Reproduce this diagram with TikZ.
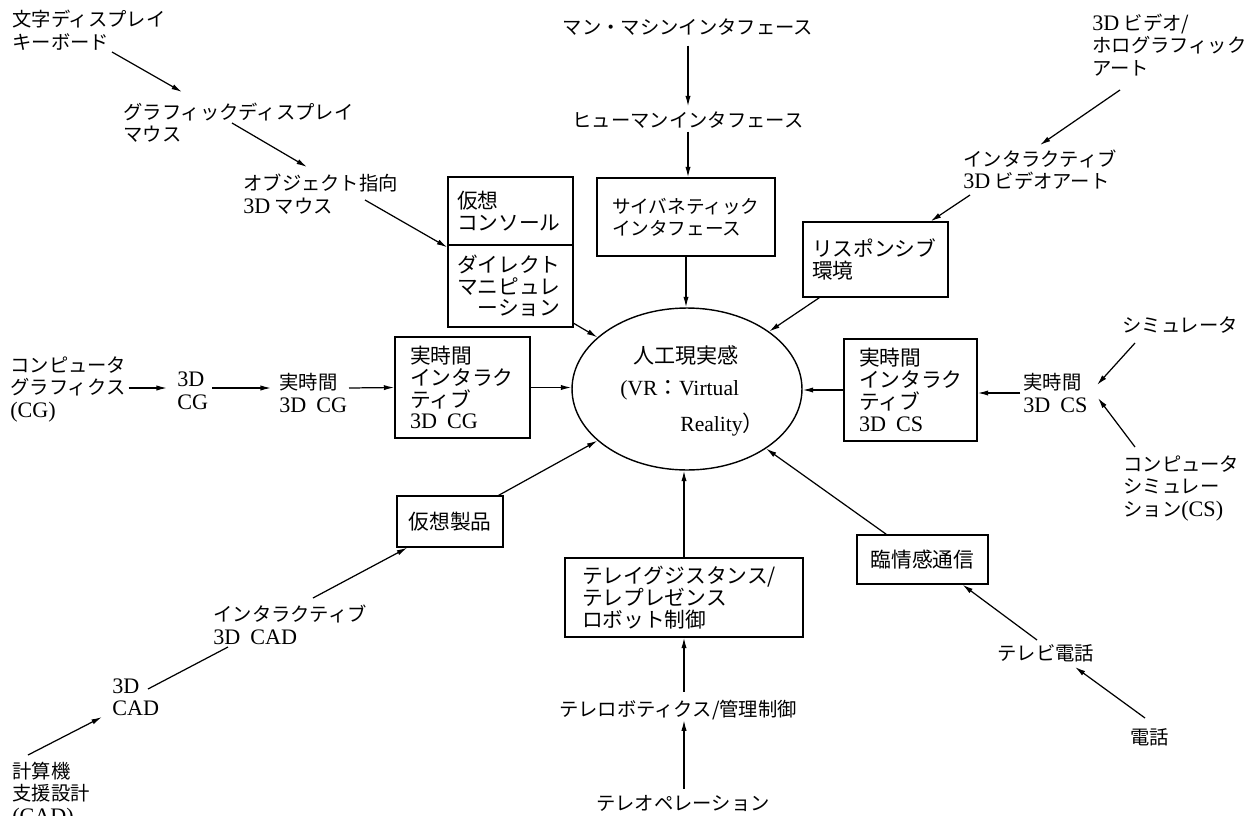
\documentclass[tikz,border=0pt]{standalone}
\usepackage{fontspec}
\setmainfont{Liberation Serif}
\newfontfamily\jp{Noto Sans CJK JP}
\usetikzlibrary{arrows.meta,shapes.geometric}
\newcommand\lat[1]{{\fontsize{12.6}{12.8}\selectfont\rmfamily #1}}
\begin{document}
\begin{tikzpicture}[x=0.02cm,y=-0.02cm,
  lab/.style={inner sep=0pt, align=left, font=\fontsize{11}{12.8}\selectfont\jp},
  latlab/.style={inner sep=0pt, align=left, font=\fontsize{12.6}{12.8}\selectfont\rmfamily},
  box/.style={draw, line width=0.8pt, inner ysep=0pt, align=left, font=\fontsize{11.8}{12.4}\selectfont\jp},
  arr/.style={line width=0.7pt, -{Latex[length=6pt,width=3pt]}},
  ln/.style={line width=0.7pt}]
\useasboundingbox (0,0) rectangle (1251,815);

% top-left chain
\node[lab, anchor=west] (kb) at (12,30) {文字ディスプレイ\\キーボード};
\node[lab, anchor=west] (gd) at (123,122.5) {グラフィックディスプレイ\\マウス};
\node[lab, anchor=west] (oo) at (243,194) {オブジェクト指向\\\lat{3D} マウス};

% top-center chain
\node[lab] (mm) at (688,27) {マン・マシンインタフェース};
\node[lab] (hi) at (688,120) {ヒューマンインタフェース};

% top-right chain
\node[lab, anchor=west] (v3d) at (1092,45) {\lat{3D} ビデオ/\\ホログラフィック\\アート};
\node[lab, anchor=west] (iv) at (963,170) {インタラクティブ\\\lat{3D} ビデオアート};

% boxes
\node[box, text width=2.14cm, inner xsep=0.18cm, minimum height=1.36cm] (k1) at (510.5,211) {仮想\\コンソール};
\node[box, text width=2.14cm, inner xsep=0.18cm, minimum height=1.64cm] (k2) at (510.5,286) {ダイレクト\\マニピュレ\\　ーション};
\node[box, font=\fontsize{10.6}{12.4}\selectfont\jp, text width=2.96cm, inner xsep=0.3cm, minimum height=1.56cm] (cyb) at (686,217) {サイバネティック\\インタフェース};
\node[box, text width=2.54cm, inner xsep=0.18cm, minimum height=1.5cm] (resp) at (875.5,259.5) {リスポンシブ\\環境};
\node[box, text width=2.1cm, inner xsep=0.3cm, minimum height=2.02cm] (rtcgb) at (462.5,387.5) {実時間\\インタラク\\ティブ\\\lat{3D\hspace{0.45em}CG}};
\node[box, text width=2.06cm, inner xsep=0.3cm, minimum height=2.04cm] (rtcsb) at (910.5,390) {実時間\\インタラク\\ティブ\\\lat{3D\hspace{0.45em}CS}};
\node[box, align=center, inner xsep=0pt, minimum width=2.12cm, minimum height=1.02cm] (kasei) at (450,521.5) {仮想製品};
\node[box, text width=4.08cm, inner xsep=0.34cm, minimum height=1.58cm] (tele) at (684,597.5) {テレイグジスタンス/\\テレプレゼンス\\ロボット制御};
\node[box, align=center, inner xsep=0pt, minimum width=2.62cm, minimum height=0.98cm] (rin) at (922.5,559.5) {臨情感通信};

% central ellipse
\node[draw, ellipse, line width=0.8pt, minimum width=4.6cm, minimum height=3.24cm, inner sep=0pt] (vr) at (687,389) {};
\node[lab, font=\fontsize{12}{14}\selectfont\jp] (vr1) at (686,355) {人工現実感};
\node[lab, anchor=west, font=\fontsize{12.3}{14}\selectfont\rmfamily] (vr2) at (620,390) {(VR{\jp ：}Virtual};
\node[lab, anchor=west, font=\fontsize{12.3}{14}\selectfont\rmfamily] (vr3) at (680,425) {Reality{\jp ）}};

% left-middle chain
\node[lab, anchor=west] (cgl) at (10,389) {コンピュータ\\グラフィクス\\\lat{(CG)}};
\node[latlab, anchor=west] (cg3) at (177,391) {3D\\CG};
\node[lab, anchor=west] (rtcg) at (279,393) {実時間\\\lat{3D\hspace{0.45em}CG}};

% right-middle chain
\node[lab, anchor=west] (rtcs) at (1023,393) {実時間\\\lat{3D\hspace{0.45em}CS}};
\node[lab, anchor=west] (sim) at (1122,325) {シミュレータ};
\node[lab, anchor=west] (csim) at (1123,488) {コンピュータ\\シミュレー\\ション\lat{(CS)}};

% bottom-left chain
\node[lab, anchor=west] (ia) at (213,625) {インタラクティブ\\\lat{3D\hspace{0.45em}CAD}};
\node[latlab, anchor=west] (cad3) at (112,697.5) {3D\\CAD};
\node[lab, anchor=west] (csd) at (12,795) {計算機\\支援設計\\\lat{(CAD)}};

% bottom-center chain
\node[lab] (trc) at (678,710) {テレロボティクス/管理制御};
\node[lab] (top) at (683,803) {テレオペレーション};

% bottom-right chain
\node[lab, anchor=west] (tv) at (997,653) {テレビ電話};
\node[lab, anchor=west] (den) at (1130,737) {電話};

% connectors
\draw[arr] ([shift={(100,22)}]kb.west) -- ([shift={(59,-30.5)}]gd.west);
\draw[arr] ([shift={(109,0.5)}]gd.west) -- ([shift={(64,-27)}]oo.west);
\draw[arr] ([shift={(122,6)}]oo.west) -- ([shift={(0,3)}]k2.north west);
\draw[arr] ([shift={(-1,-5)}]k2.south east) -- (vr.150);
\draw[arr] ([shift={(0,10)}]mm.south) -- ([shift={(0,-5)}]hi.north);
\draw[arr] ([shift={(0,3)}]hi.south) -- (hi.south |- cyb.north);
\draw[arr] (cyb.south) -- (cyb.south |- vr.north);
\draw[arr] ([shift={(28,45)}]v3d.west) -- ([shift={(77,-25)}]iv.west);
\draw[arr] ([shift={(7,25)}]iv.west) -- ([shift={(-18,0)}]resp.north east);
\draw[arr] ([shift={(17,0)}]resp.south west) -- (vr.35);
\draw[arr] ([shift={(2,-1)}]cgl.east) -- ([shift={(-10,-3)}]cg3.west);
\draw[arr] ([shift={(35,-3)}]cg3.west) -- ([shift={(-8,-5)}]rtcg.west);
\draw[arr] ([shift={(70,-5)}]rtcg.west) -- (rtcgb.west);
\draw[arr] (rtcgb.east) -- (rtcgb.east -| vr.west);
\draw[arr] (rtcsb.west) -- (rtcsb.west -| vr.east);
\draw[arr] ([shift={(-3,0)}]rtcs.west) -- (rtcsb.east |- rtcs.west);
\draw[arr] ([shift={(13,18)}]sim.west) -- ([shift={(74,-8)}]rtcs.west);
\draw[arr] ([shift={(12,-41)}]csim.west) -- ([shift={(75,5)}]rtcs.west);
\draw[arr] ([shift={(-5,0)}]kasei.north east) -- (vr.210);
\draw[arr] ([shift={(100,-27)}]ia.west) -- ([shift={(11,0)}]kasei.south west);
\draw[ln] ([shift={(36,-8.5)}]cad3.west) -- ([shift={(15,22)}]ia.west);
\draw[arr] ([shift={(16,-40)}]csd.west) -- ([shift={(-10,19.5)}]cad3.west);
\draw[arr] (tele.north) -- (tele.north |- vr.south);
\draw[arr] ([shift={(6,-8)}]trc.north) -- (tele.south);
\draw[arr] ([shift={(1,-6)}]top.north) -- ([shift={(6,0)}]trc.south);
\draw[arr] ([shift={(30,0)}]rin.north west) -- (vr.323);
\draw[arr] ([shift={(40,-13)}]tv.west) -- ([shift={(40,0)}]rin.south);
\draw[arr] ([shift={(15,-19)}]den.west) -- ([shift={(78,14)}]tv.west);
\end{tikzpicture}
\end{document}
